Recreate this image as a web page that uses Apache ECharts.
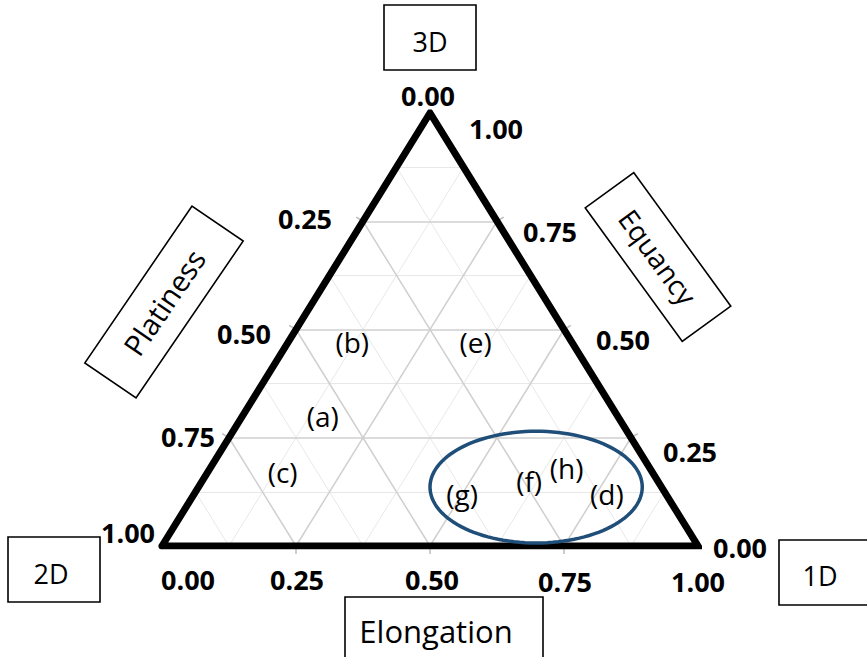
<!DOCTYPE html>
<html><head><meta charset="utf-8">
<script src="https://cdn.jsdelivr.net/npm/echarts@6/dist/echarts.min.js"></script>
<style>html,body{margin:0;padding:0;background:#fff}#c{width:867px;height:657px}</style>
</head><body><div id="c"></div>
<script>
// ---- data ----
const tickValues = [0, 0.25, 0.5, 0.75, 1];
const tickLabels = ['0.00', '0.25', '0.50', '0.75', '1.00'];
const gridMajor = [0.25, 0.5, 0.75];
const gridMinor = [0.125, 0.375, 0.625, 0.875];
const sampleNames = ['(a)', '(b)', '(c)', '(d)', '(e)', '(f)', '(g)', '(h)'];
const sampleElongation = [0.15, 0.12, 0.14, 0.77, 0.35, 0.61, 0.50, 0.665];
const sampleEquancy = [0.30, 0.47, 0.17, 0.12, 0.47, 0.15, 0.12, 0.18];
const groupCenter = [0.63, 0.136];   // elongation, equancy
const groupRadii = [0.198, 0.129];   // in axis units (x, y)
const axisNames = ['Elongation', 'Platiness', 'Equancy'];
const vertexNames = ['2D', '1D', '3D'];

// ---- style (label pixel offsets) ----
const leftOffsets = [[-2, -18], [-58, -3], [-52, 4], [-41, -1], [-34, -14]];
const rightOffsets = [[42, 1], [59, 14], [59, 10], [53, 10], [66, 15]];
const bottomOffsets = [[26, 33], [1, 33], [2, 33], [1, 35], [0, 35]];

// ternary (elongation e, equancy q) -> cartesian
function toXY(e, q) { return [e + q / 2, q]; }

function gridLines(vals) {
  const segs = [];
  vals.forEach(v => {
    segs.push({ coords: [toXY(0, v), toXY(1 - v, v)] });       // constant equancy
    segs.push({ coords: [toXY(v, 0), toXY(v, 1 - v)] });       // constant elongation
    segs.push({ coords: [toXY(1 - v, 0), toXY(0, 1 - v)] });   // constant platiness
  });
  return segs;
}

const tickFont = { fontFamily: 'Open Sans', fontWeight: 'bold', fontSize: 27, color: '#000', opacity: 1 };
const tickData = [];
tickValues.forEach((t, i) => {
  tickData.push({ value: toXY(t, 0), name: tickLabels[i], label: { offset: bottomOffsets[i] } });
  tickData.push({ value: toXY(0, 1 - t), name: tickLabels[i], label: { offset: leftOffsets[i] } });
  tickData.push({ value: toXY(1 - t, t), name: tickLabels[i], label: { offset: rightOffsets[i] } });
});

const edgeTicks = [];
gridMajor.forEach(v => {
  edgeTicks.push([...toXY(v, 0), 0]);
  edgeTicks.push([...toXY(0, 1 - v), 1]);
  edgeTicks.push([...toXY(1 - v, v), 2]);
});

const sampleData = sampleNames.map((n, i) => ({ name: n, value: toXY(sampleElongation[i], sampleEquancy[i]) }));

function box(cx, cy, w, h, rot, text, fontSize, tdx, tdy) {
  return {
    type: 'group', x: cx, y: cy, rotation: rot, children: [
      { type: 'rect', shape: { x: -w / 2, y: -h / 2, width: w, height: h },
        style: { fill: '#fff', stroke: '#000', lineWidth: 1.6 } },
      { type: 'text', x: tdx || 0, y: tdy || 0,
        style: { text: text, fontFamily: 'Open Sans', fontSize: fontSize, fill: '#000',
                 align: 'center', verticalAlign: 'middle' } }
    ]
  };
}

const chart = echarts.init(document.getElementById('c'), null, { renderer: 'svg' });
const deg = Math.PI / 180;
chart.setOption({
  animation: false,
  backgroundColor: '#fff',
  grid: { left: 162, top: 113, width: 536, height: 433 },
  xAxis: { type: 'value', min: 0, max: 1, show: false },
  yAxis: { type: 'value', min: 0, max: 1, show: false },
  graphic: [
    box(430, 37.5, 92, 65, 0, vertexNames[2], 27, 0, 4),
    box(54, 569.5, 92, 65, 0, vertexNames[0], 27, -3, 4),
    box(825, 572.5, 92, 65, 0, vertexNames[1], 27, -5, 3),
    box(444, 629.5, 198, 65, 0, axisNames[0], 31, -8, 1),
    box(164, 302, 190, 62, 55.7 * deg, axisNames[1], 29, 0, 0),
    box(658, 257, 165, 60, -54 * deg, axisNames[2], 28, 0, 0)
  ],
  series: [
    { type: 'lines', coordinateSystem: 'cartesian2d', silent: true, z: 1,
      data: gridLines(gridMinor), lineStyle: { color: '#e8e8e8', width: 1, opacity: 1 } },
    { type: 'lines', coordinateSystem: 'cartesian2d', silent: true, z: 2,
      data: gridLines(gridMajor), lineStyle: { color: '#cfcfcf', width: 1.5, opacity: 1 } },
    { type: 'custom', silent: true, z: 3, data: edgeTicks,
      renderItem: function (params, api) {
        const p = api.coord([api.value(0), api.value(1)]);
        const idx = api.value(2);
        const c = api.coord([0.5, 1 / 3]);
        let dx = p[0] - c[0], dy = p[1] - c[1];
        if (idx === 0) { dx = 0; dy = 1; }
        else {
          const a = idx === 1 ? api.coord([0, 0]) : api.coord([1, 0]);
          const b = api.coord([0.5, 1]);
          let nx = -(b[1] - a[1]), ny = b[0] - a[0];
          const l = Math.hypot(nx, ny); nx /= l; ny /= l;
          if (nx * dx + ny * dy < 0) { nx = -nx; ny = -ny; }
          dx = nx; dy = ny;
        }
        return { type: 'line', shape: { x1: p[0], y1: p[1], x2: p[0] + dx * 8, y2: p[1] + dy * 8 },
                 style: { stroke: '#bdbdbd', lineWidth: 1.5 } };
      } },
    { type: 'line', silent: true, z: 5, symbol: 'none',
      data: [toXY(0, 0), toXY(1, 0), toXY(0, 1), toXY(0, 0)],
      lineStyle: { color: '#000', width: 7, cap: 'round', join: 'miter' } },
    { type: 'custom', silent: true, z: 6,
      data: [[...toXY(groupCenter[0], groupCenter[1]), groupRadii[0], groupRadii[1]]],
      renderItem: function (params, api) {
        const c = api.coord([api.value(0), api.value(1)]);
        const s = api.size([api.value(2), api.value(3)]);
        const pts = [];
        for (let k = 0; k < 120; k++) {
          const a = k / 120 * Math.PI * 2;
          pts.push([c[0] + s[0] * Math.cos(a), c[1] + s[1] * Math.sin(a)]);
        }
        return { type: 'polygon', shape: { points: pts },
                 style: { fill: 'none', stroke: '#1f4e79', lineWidth: 3.5 } };
      } },
    { type: 'scatter', silent: true, z: 7, symbolSize: 0, data: sampleData,
      label: { show: true, position: 'inside', formatter: '{b}', opacity: 1,
               fontFamily: 'Open Sans', fontSize: 28, color: '#000' } },
    { type: 'scatter', silent: true, z: 7, symbolSize: 0, data: tickData,
      label: Object.assign({ show: true, position: 'inside', formatter: '{b}' }, tickFont) }
  ]
});
</script>
</body></html>
